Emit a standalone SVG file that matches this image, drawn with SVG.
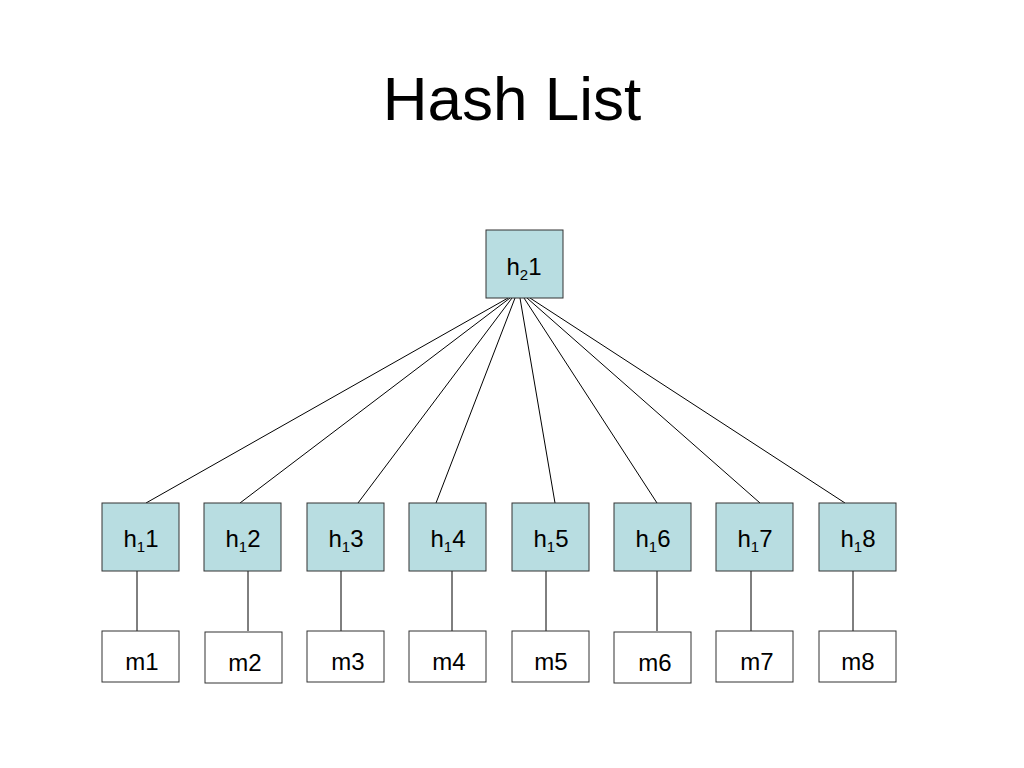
<svg xmlns="http://www.w3.org/2000/svg" width="1024" height="768" viewBox="0 0 1024 768">
<style>
.h{fill:#b8dde1;stroke:#333;stroke-width:1}
.m{fill:#fff;stroke:#333;stroke-width:1}
.t{font-family:"Liberation Sans",Arial,sans-serif;font-size:24px;fill:#000;text-anchor:middle}
.sub{font-size:15px}
.c line{stroke:#000;stroke-width:1}
</style>
<rect width="1024" height="768" fill="#fff"/>
<text x="512" y="120" font-family="Liberation Sans,Arial,sans-serif" font-size="62" text-anchor="middle">Hash List</text>
<g class="c">
<line x1="508" y1="298" x2="146" y2="503"/>
<line x1="510" y1="298" x2="240" y2="503"/>
<line x1="512" y1="298" x2="358" y2="503"/>
<line x1="515" y1="298" x2="436" y2="503"/>
<line x1="520" y1="298" x2="555" y2="503"/>
<line x1="524" y1="298" x2="657" y2="503"/>
<line x1="527" y1="298" x2="760" y2="503"/>
<line x1="530" y1="298" x2="845" y2="503"/>
<line x1="137" y1="571" x2="137" y2="631"/>
<line x1="248" y1="571" x2="248" y2="631"/>
<line x1="341" y1="571" x2="341" y2="631"/>
<line x1="452" y1="571" x2="452" y2="631"/>
<line x1="546" y1="571" x2="546" y2="631"/>
<line x1="657" y1="571" x2="657" y2="631"/>
<line x1="751" y1="571" x2="751" y2="631"/>
<line x1="853" y1="571" x2="853" y2="631"/>
</g>
<g id="h2_1"><rect class="h" x="486" y="230" width="77" height="68"/><text class="t" x="524" y="275">h<tspan class="sub" dy="5">2</tspan><tspan dy="-5">1</tspan></text></g>
<g id="h1_1"><rect class="h" x="102" y="503" width="77" height="68"/><text class="t" x="141" y="547">h<tspan class="sub" dy="5">1</tspan><tspan dy="-5">1</tspan></text></g>
<g id="h1_2"><rect class="h" x="204" y="503" width="77" height="68"/><text class="t" x="243" y="547">h<tspan class="sub" dy="5">1</tspan><tspan dy="-5">2</tspan></text></g>
<g id="h1_3"><rect class="h" x="307" y="503" width="77" height="68"/><text class="t" x="346" y="547">h<tspan class="sub" dy="5">1</tspan><tspan dy="-5">3</tspan></text></g>
<g id="h1_4"><rect class="h" x="409" y="503" width="77" height="68"/><text class="t" x="448" y="547">h<tspan class="sub" dy="5">1</tspan><tspan dy="-5">4</tspan></text></g>
<g id="h1_5"><rect class="h" x="512" y="503" width="77" height="68"/><text class="t" x="551" y="547">h<tspan class="sub" dy="5">1</tspan><tspan dy="-5">5</tspan></text></g>
<g id="h1_6"><rect class="h" x="614" y="503" width="77" height="68"/><text class="t" x="653" y="547">h<tspan class="sub" dy="5">1</tspan><tspan dy="-5">6</tspan></text></g>
<g id="h1_7"><rect class="h" x="716" y="503" width="77" height="68"/><text class="t" x="755" y="547">h<tspan class="sub" dy="5">1</tspan><tspan dy="-5">7</tspan></text></g>
<g id="h1_8"><rect class="h" x="819" y="503" width="77" height="68"/><text class="t" x="858" y="547">h<tspan class="sub" dy="5">1</tspan><tspan dy="-5">8</tspan></text></g>
<g id="m1"><rect class="m" x="102" y="631" width="77" height="51"/><text class="t" x="142" y="670">m1</text></g>
<g id="m2"><rect class="m" x="205" y="632" width="77" height="51"/><text class="t" x="245" y="671">m2</text></g>
<g id="m3"><rect class="m" x="307" y="631" width="77" height="51"/><text class="t" x="348" y="670">m3</text></g>
<g id="m4"><rect class="m" x="409" y="631" width="77" height="51"/><text class="t" x="449" y="670">m4</text></g>
<g id="m5"><rect class="m" x="512" y="631" width="77" height="51"/><text class="t" x="551" y="670">m5</text></g>
<g id="m6"><rect class="m" x="614" y="632" width="77" height="51"/><text class="t" x="655" y="671">m6</text></g>
<g id="m7"><rect class="m" x="716" y="631" width="77" height="51"/><text class="t" x="757" y="670">m7</text></g>
<g id="m8"><rect class="m" x="819" y="631" width="77" height="51"/><text class="t" x="858" y="670">m8</text></g>
</svg>
